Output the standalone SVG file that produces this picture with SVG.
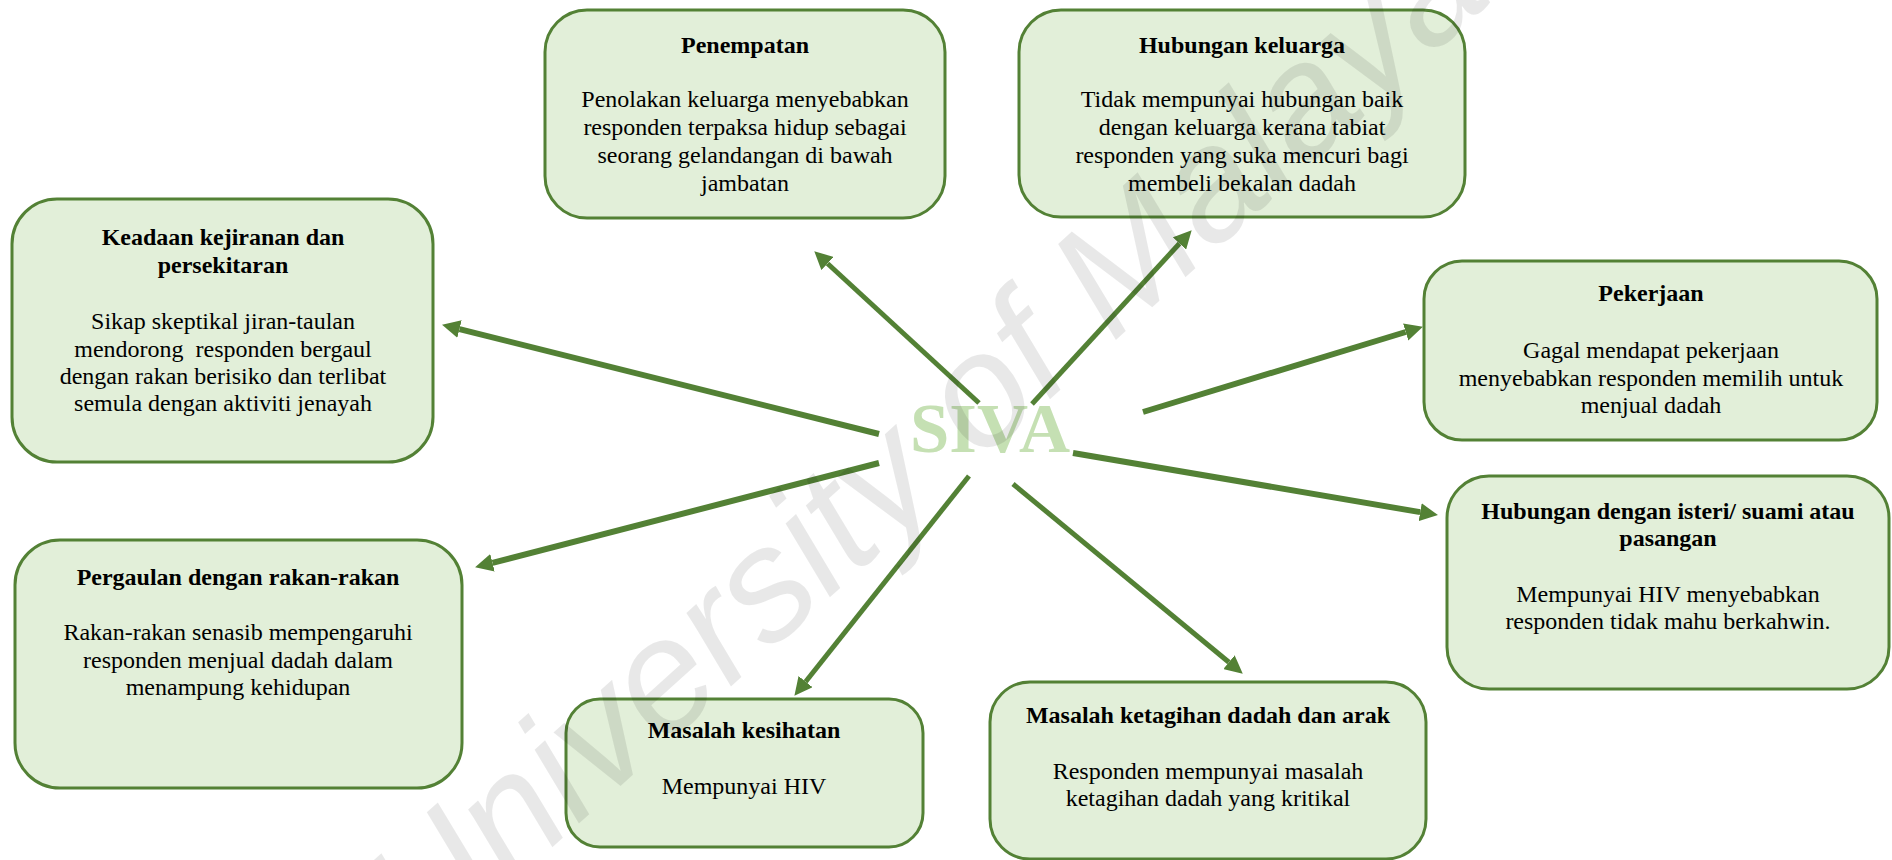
<svg xmlns="http://www.w3.org/2000/svg" width="1892" height="860" viewBox="0 0 1892 860">
<style>
.box{fill:#E2EFD9;stroke:#538135;stroke-width:3}
.t{font-family:"Liberation Serif","Times New Roman",serif;font-size:24px;fill:#000;text-anchor:middle}
.b{font-weight:bold}
.ln{stroke:#538135;fill:none}
.w6{stroke-width:6}
.w5{stroke-width:5}
</style>
<defs>
<marker id="ah" markerUnits="userSpaceOnUse" markerWidth="18" markerHeight="18" viewBox="0 0 18 18" refX="0" refY="9" orient="auto">
<path d="M0,0 L18,9 L0,18 Z" fill="#538135"/>
</marker>
</defs>
<rect width="1892" height="860" fill="#fff"/>

<g id="n-penempatan">
<rect class="box" x="545" y="10" width="400" height="208" rx="42"/>
<text class="t b" x="745" y="53">Penempatan</text>
<text class="t" x="745" y="107">Penolakan keluarga menyebabkan</text>
<text class="t" x="745" y="135">responden terpaksa hidup sebagai</text>
<text class="t" x="745" y="163">seorang gelandangan di bawah</text>
<text class="t" x="745" y="191">jambatan</text>
</g>

<g id="n-hubungan-keluarga">
<rect class="box" x="1019" y="10" width="446" height="207" rx="42"/>
<text class="t b" x="1242" y="53">Hubungan keluarga</text>
<text class="t" x="1242" y="107">Tidak mempunyai hubungan baik</text>
<text class="t" x="1242" y="135">dengan keluarga kerana tabiat</text>
<text class="t" x="1242" y="163">responden yang suka mencuri bagi</text>
<text class="t" x="1242" y="191">membeli bekalan dadah</text>
</g>

<g id="n-keadaan">
<rect class="box" x="12" y="199" width="421" height="263" rx="45"/>
<text class="t b" x="223" y="245">Keadaan kejiranan dan</text>
<text class="t b" x="223" y="273">persekitaran</text>
<text class="t" x="223" y="329">Sikap skeptikal jiran-taulan</text>
<text class="t" x="223" y="357" xml:space="preserve">mendorong  responden bergaul</text>
<text class="t" x="223" y="384">dengan rakan berisiko dan terlibat</text>
<text class="t" x="223" y="411">semula dengan aktiviti jenayah</text>
</g>

<g id="n-pekerjaan">
<rect class="box" x="1424" y="261" width="453" height="179" rx="38"/>
<text class="t b" x="1651" y="301">Pekerjaan</text>
<text class="t" x="1651" y="358">Gagal mendapat pekerjaan</text>
<text class="t" x="1651" y="386">menyebabkan responden memilih untuk</text>
<text class="t" x="1651" y="413">menjual dadah</text>
</g>

<g id="n-isteri">
<rect class="box" x="1447" y="476" width="442" height="213" rx="42"/>
<text class="t b" x="1668" y="519">Hubungan dengan isteri/ suami atau</text>
<text class="t b" x="1668" y="546">pasangan</text>
<text class="t" x="1668" y="602">Mempunyai HIV menyebabkan</text>
<text class="t" x="1668" y="629">responden tidak mahu berkahwin.</text>
</g>

<g id="n-pergaulan">
<rect class="box" x="15" y="540" width="447" height="248" rx="45"/>
<text class="t b" x="238" y="585">Pergaulan dengan rakan-rakan</text>
<text class="t" x="238" y="640">Rakan-rakan senasib mempengaruhi</text>
<text class="t" x="238" y="668">responden menjual dadah dalam</text>
<text class="t" x="238" y="695">menampung kehidupan</text>
</g>

<g id="n-kesihatan">
<rect class="box" x="566" y="699" width="357" height="148" rx="34"/>
<text class="t b" x="744" y="738">Masalah kesihatan</text>
<text class="t" x="744" y="794">Mempunyai HIV</text>
</g>

<g id="n-ketagihan">
<rect class="box" x="990" y="682" width="436" height="177" rx="40"/>
<text class="t b" x="1208" y="723">Masalah ketagihan dadah dan arak</text>
<text class="t" x="1208" y="779">Responden mempunyai masalah</text>
<text class="t" x="1208" y="806">ketagihan dadah yang kritikal</text>
</g>

<g id="n-siva">
<text x="990" y="452" font-family="Liberation Serif, 'Times New Roman', serif" font-weight="bold" font-size="70" fill="#C5E0B3" text-anchor="middle" textLength="160" lengthAdjust="spacingAndGlyphs">SIVA</text>
</g>

<g id="connectors">
<line class="ln w5" x1="979" y1="403" x2="827.5" y2="263.5" marker-end="url(#ah)"/>
<line class="ln w5" x1="1032" y1="404" x2="1179.5" y2="243.5" marker-end="url(#ah)"/>
<line class="ln w6" x1="879" y1="434" x2="459.5" y2="329.1" marker-end="url(#ah)"/>
<line class="ln w6" x1="1143" y1="412" x2="1405.7" y2="332" marker-end="url(#ah)"/>
<line class="ln w6" x1="1073" y1="453" x2="1420.2" y2="512.1" marker-end="url(#ah)"/>
<line class="ln w6" x1="879" y1="463" x2="492.5" y2="562.8" marker-end="url(#ah)"/>
<line class="ln w5" x1="969" y1="476" x2="805.6" y2="681.7" marker-end="url(#ah)"/>
<line class="ln w5" x1="1013" y1="484" x2="1228.9" y2="662.2" marker-end="url(#ah)"/>
</g>

<g id="watermark">
<text transform="translate(425,962) rotate(-42)" x="0" y="0" font-family="Liberation Sans, Arial, sans-serif" font-style="italic" font-size="160" fill="#000" fill-opacity="0.09">University of Malaya</text>
</g>
</svg>
